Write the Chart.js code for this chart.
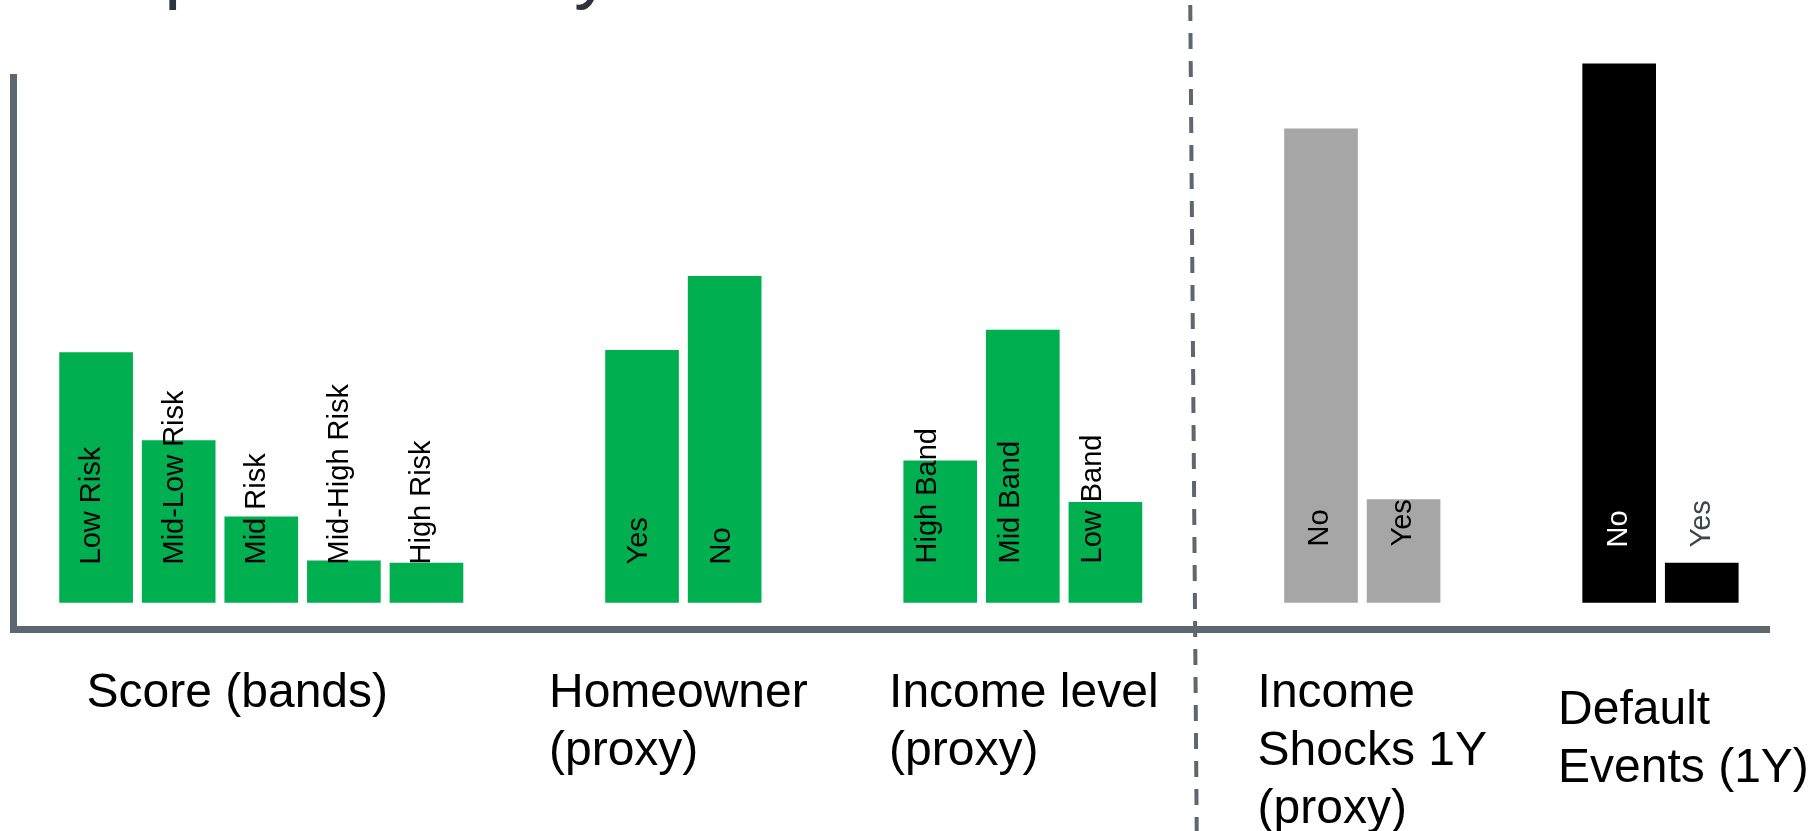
<!DOCTYPE html>
<html>
<head>
<meta charset="utf-8">
<script src="https://cdn.jsdelivr.net/npm/chart.js@4.4.1/dist/chart.umd.min.js"></script>
<style>
	html, body { margin: 0; padding: 0; background: #fff; }
	canvas { display: block; }
</style>
</head>
<body>
<canvas id="bandsChart" width="1810" height="831"></canvas>
<script>
// share of sample (%) in each band
const scoreBands = ["Low Risk", "Mid-Low Risk", "Mid Risk", "Mid-High Risk", "High Risk"];
const scoreShare = [43.2, 28.0, 14.8, 7.2, 6.8];

const homeownerCats = ["Yes", "No"];
const homeownerShare = [43.6, 56.4];

const incomeCats = ["High Band", "Mid Band", "Low Band"];
const incomeShare = [24.5, 47.1, 17.3];

const shockCats = ["No", "Yes"];
const shockShare = [81.9, 17.8];

const defaultCats = ["No", "Yes"];
const defaultShare = [93.1, 6.8];

const groupNames = [
	["Score (bands)"],
	["Homeowner", "(proxy)"],
	["Income level", "(proxy)"],
	["Income", "Shocks 1Y", "(proxy)"],
	["Default", "Events (1Y)"],
];

const titleText = "Sample Summary";

const FONT = "'Liberation Sans', Arial, sans-serif";
const AXIS = "#5d6770";
const GROUP_GAP = 1.61;
const SEPARATOR_AT = 13.283;

const groups = [
	{ cats: scoreBands, values: scoreShare },
	{ cats: homeownerCats, values: homeownerShare },
	{ cats: incomeCats, values: incomeShare },
	{ cats: shockCats, values: shockShare },
	{ cats: defaultCats, values: defaultShare },
];

const groupStyles = [
	{ fill: "#00b050", lift: 38, shift: -4, text: ["#000"], nameShift: -24, nameDrop: 0 },
	{ fill: "#00b050", lift: 38, shift: -3, text: ["#000"], nameShift: -5, nameDrop: 0 },
	{ fill: "#00b050", lift: 39, shift: -12, text: ["#000"], nameShift: 1, nameDrop: 0 },
	{ fill: "#a6a6a6", lift: 56, shift: -1, text: ["#000"], nameShift: 10, nameDrop: 0 },
	{ fill: "#000000", lift: 55, shift: 0, text: ["#fff", "#3c4650"], nameShift: 23, nameDrop: 17 },
];

// bars sit one unit apart inside a group, groups are pushed apart by GROUP_GAP
let start = 0;
const datasets = groups.map((group, g) => {
	const points = group.values.map((value, i) => ({ x: start + i, y: value }));
	start += group.cats.length + GROUP_GAP;
	return {
		data: points,
		backgroundColor: groupStyles[g].fill,
		barThickness: 73,
		grouped: false,
		clip: false,
	};
});

const barLabels = {
	id: "barLabels",
	afterDatasetsDraw(chart) {
		const ctx = chart.ctx;
		const base = chart.scales.y.getPixelForValue(0);
		groups.forEach((group, g) => {
			const style = groupStyles[g];
			chart.getDatasetMeta(g).data.forEach((bar, i) => {
				ctx.save();
				ctx.translate(bar.x + style.shift, base - style.lift);
				ctx.rotate(-Math.PI / 2);
				ctx.font = `29px ${FONT}`;
				ctx.fillStyle = style.text[i] ?? style.text[0];
				ctx.textAlign = "left";
				ctx.textBaseline = "middle";
				ctx.fillText(group.cats[i], 0, 0);
				ctx.restore();
			});
		});
	},
};

const decorations = {
	id: "decorations",
	afterDraw(chart) {
		const { ctx, chartArea } = chart;
		const xScale = chart.scales.x;

		// group names under the axis, left-aligned block centred on the group
		ctx.save();
		ctx.font = `48px ${FONT}`;
		ctx.fillStyle = "#000";
		ctx.textAlign = "left";
		ctx.textBaseline = "alphabetic";
		groupNames.forEach((lines, g) => {
			const bars = chart.getDatasetMeta(g).data;
			const center = (bars[0].x + bars[bars.length - 1].x) / 2;
			const width = Math.max(...lines.map((line) => ctx.measureText(line).width));
			const left = center - width / 2 + groupStyles[g].nameShift;
			lines.forEach((line, k) => {
				ctx.fillText(line, left, chartArea.bottom + 77 + groupStyles[g].nameDrop + k * 58);
			});
		});
		ctx.restore();

		// title sits mostly above the canvas
		ctx.save();
		ctx.font = `76px ${FONT}`;
		ctx.fillStyle = "#2b333e";
		ctx.textBaseline = "alphabetic";
		ctx.fillText(titleText, 8, -6);
		ctx.restore();

		// dashed divider between profile and outcome groups
		const sx = xScale.getPixelForValue(SEPARATOR_AT);
		ctx.save();
		ctx.strokeStyle = AXIS;
		ctx.lineWidth = 4;
		ctx.setLineDash([16, 12]);
		ctx.lineDashOffset = 23;
		ctx.beginPath();
		ctx.moveTo(sx - 3, 0);
		ctx.lineTo(sx + 3.5, chart.height);
		ctx.stroke();
		ctx.restore();
	},
};

new Chart(document.getElementById("bandsChart"), {
	type: "bar",
	data: { datasets },
	options: {
		responsive: false,
		animation: false,
		devicePixelRatio: 1,
		layout: { padding: { left: 13, top: 77, right: 41, bottom: 201.5 } },
		plugins: {
			legend: { display: false },
			tooltip: { enabled: false },
		},
		scales: {
			x: {
				type: "linear",
				offset: false,
				min: -1.006,
				max: 20.254,
				grid: { display: false, drawTicks: false },
				ticks: { display: false },
				border: { color: AXIS, width: 7 },
			},
			y: {
				min: -4.667,
				max: 90.84,
				grid: { display: false, drawTicks: false },
				ticks: { display: false },
				border: { color: AXIS, width: 7 },
			},
		},
	},
	plugins: [barLabels, decorations],
});
</script>
</body>
</html>
